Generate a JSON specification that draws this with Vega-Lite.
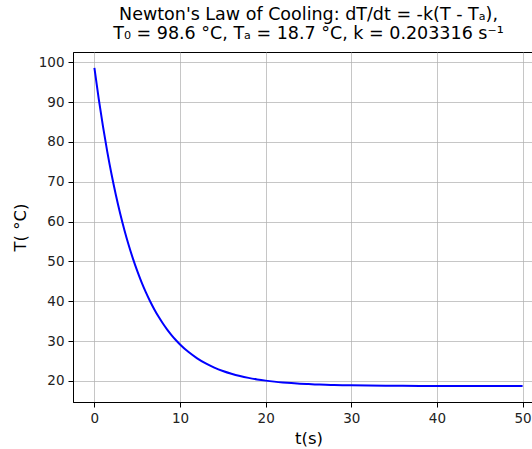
{
  "$schema": "https://vega.github.io/schema/vega-lite/v6.json",
  "width": 471,
  "height": 350,
  "autosize": {"type": "none"},
  "padding": {"left": 73, "top": 52, "right": 0, "bottom": 47},
  "background": "white",
  "config": {
    "font": "DejaVu Sans",
    "view": {"stroke": "black", "strokeWidth": 1},
    "axis": {
      "domainColor": "black",
      "domainWidth": 1,
      "tickColor": "black",
      "tickWidth": 1,
      "tickSize": 5,
      "labelPadding": 4,
      "labelFont": "DejaVu Sans",
      "labelFontSize": 13.5,
      "labelColor": "#222222",
      "titleFont": "DejaVu Sans",
      "titleFontSize": 16.5,
      "titleFontWeight": "normal",
      "titleColor": "black",
      "gridColor": "#b0b0b0",
      "gridWidth": 0.8,
      "gridOpacity": 0.9
    }
  },
  "title": {
    "text": ["Newton's Law of Cooling: dT/dt = -k(T - Tₐ),", "T₀ = 98.6  °C, Tₐ = 18.7  °C, k = 0.203316 s⁻¹"],
    "font": "DejaVu Sans",
    "fontSize": 17.5,
    "fontWeight": "normal",
    "color": "black",
    "anchor": "middle",
    "lineHeight": 19,
    "offset": 10
  },
  "data": {
    "values": [
      {"t": 0, "T": 98.6}, {"t": 0.5, "T": 90.877}, {"t": 1, "T": 83.9}, {"t": 1.5, "T": 77.598},
      {"t": 2, "T": 71.905}, {"t": 2.5, "T": 66.762}, {"t": 3, "T": 62.116}, {"t": 3.5, "T": 57.919},
      {"t": 4, "T": 54.128}, {"t": 4.5, "T": 50.704}, {"t": 5, "T": 47.61}, {"t": 5.5, "T": 44.816},
      {"t": 6, "T": 42.291}, {"t": 6.5, "T": 40.011}, {"t": 7, "T": 37.951}, {"t": 7.5, "T": 36.09},
      {"t": 8, "T": 34.409}, {"t": 8.5, "T": 32.891}, {"t": 9, "T": 31.519}, {"t": 9.5, "T": 30.28},
      {"t": 10, "T": 29.161}, {"t": 11, "T": 27.236}, {"t": 12, "T": 25.666}, {"t": 13, "T": 24.384},
      {"t": 14, "T": 23.338}, {"t": 15, "T": 22.485}, {"t": 16, "T": 21.789}, {"t": 17, "T": 21.22},
      {"t": 18, "T": 20.757}, {"t": 19, "T": 20.378}, {"t": 20, "T": 20.07}, {"t": 21, "T": 19.818},
      {"t": 22, "T": 19.612}, {"t": 23, "T": 19.444}, {"t": 24, "T": 19.307}, {"t": 25, "T": 19.196},
      {"t": 26, "T": 19.104}, {"t": 27, "T": 19.03}, {"t": 28, "T": 18.969}, {"t": 29, "T": 18.92},
      {"t": 30, "T": 18.879}, {"t": 32, "T": 18.819}, {"t": 34, "T": 18.78}, {"t": 36, "T": 18.753},
      {"t": 38, "T": 18.735}, {"t": 40, "T": 18.723}, {"t": 45, "T": 18.709}, {"t": 50, "T": 18.703}
    ]
  },
  "mark": {"type": "line", "color": "#0000ff", "strokeWidth": 2, "interpolate": "monotone", "clip": true},
  "encoding": {
    "x": {
      "field": "t",
      "type": "quantitative",
      "scale": {"domain": [-2.5, 52.5], "nice": false, "zero": false},
      "axis": {"values": [0, 10, 20, 30, 40, 50], "title": "t(s)", "titlePadding": 6}
    },
    "y": {
      "field": "T",
      "type": "quantitative",
      "scale": {"domain": [14.7, 102.6], "nice": false, "zero": false},
      "axis": {"values": [20, 30, 40, 50, 60, 70, 80, 90, 100], "title": "T( °C)", "titlePadding": 10}
    }
  }
}
